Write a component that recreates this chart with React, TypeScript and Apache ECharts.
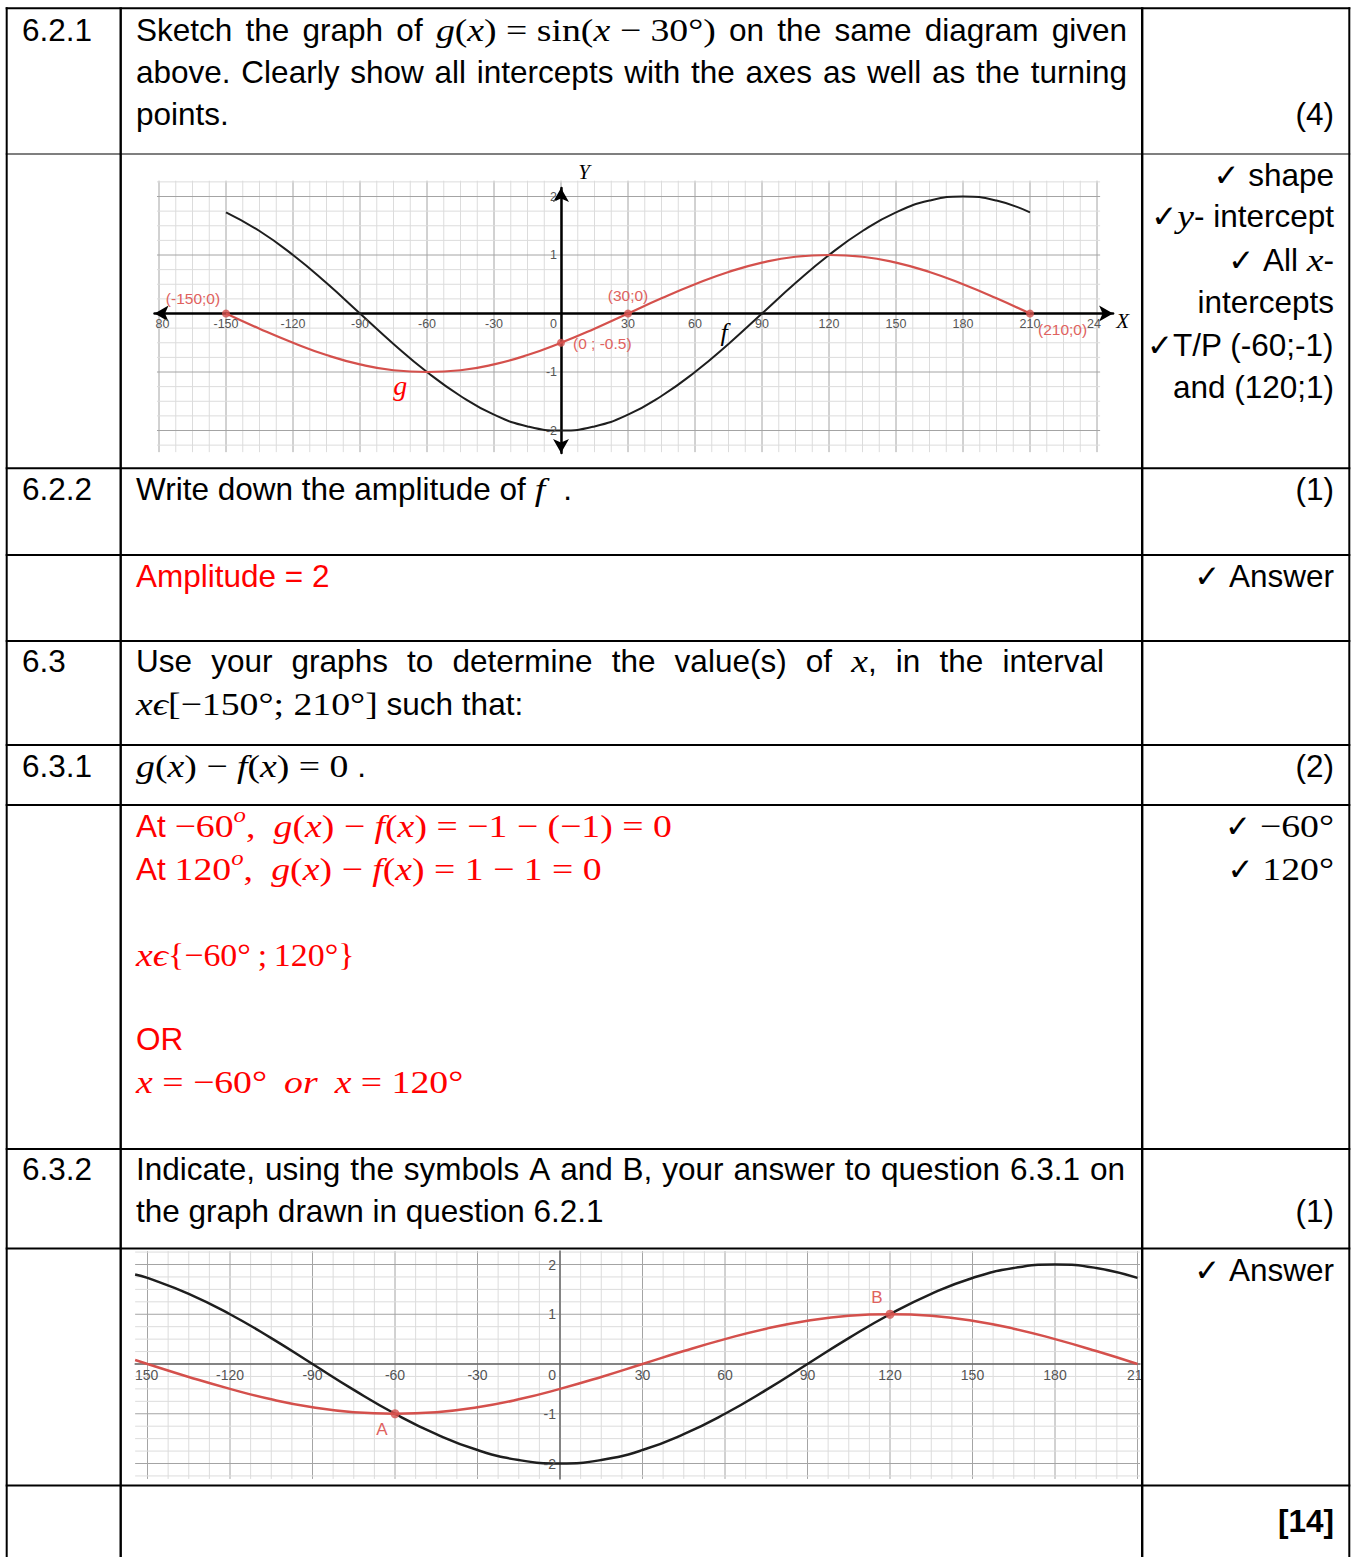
import React, { useEffect, useRef } from 'react';
import * as echarts from 'echarts';

// ---------- graph data ----------
// sample angles (degrees)
const angles = [-150, -135, -120, -105, -90, -75, -60, -45, -30, -15, 0, 15, 30, 45, 60, 75, 90, 105, 120, 135, 150, 165, 180, 195, 210];
// f(x) = -2cos x
const fValues = [1.73, 1.41, 1.0, 0.52, 0, -0.52, -1.0, -1.41, -1.73, -1.93, -2, -1.93, -1.73, -1.41, -1.0, -0.52, 0, 0.52, 1.0, 1.41, 1.73, 1.93, 2, 1.93, 1.73];
// g(x) = sin(x - 30°)
const gValues = [0, -0.26, -0.5, -0.71, -0.87, -0.97, -1, -0.97, -0.87, -0.71, -0.5, -0.26, 0, 0.26, 0.5, 0.71, 0.87, 0.97, 1, 0.97, 0.87, 0.71, 0.5, 0.26, 0];
// the lower graph runs out to its left edge
const edgeAngle = -154.5;
const fAtEdge = 1.8;
const gAtEdge = 0.08;

// marked points of g
const gPoints = [[-150, 0], [0, -0.5], [30, 0], [210, 0]];
const gPointLabels = ['(-150;0)', '(0 ; -0.5)', '(30;0)', '(210;0)'];
// solutions of g(x) - f(x) = 0
const abPoints = [[-60, -1], [120, 1]];
const abLabels = ['A', 'B'];

// tick labels (outer ones are cut off by the picture edge)
const topXTicks = [-180, -150, -120, -90, -60, -30, 0, 30, 60, 90, 120, 150, 180, 210, 240];
const topXTickLabels = ['80', '-150', '-120', '-90', '-60', '-30', '0', '30', '60', '90', '120', '150', '180', '210', '24'];
const bottomXTicks = [-150, -120, -90, -60, -30, 0, 30, 60, 90, 120, 150, 180, 210];
const bottomXTickLabels = ['150', '-120', '-90', '-60', '-30', '0', '30', '60', '90', '120', '150', '180', '21'];
const yTicks = [-2, -1, 1, 2];
const yTickLabels = ['-2', '-1', '1', '2'];

// ---------- layout of the two graphs (pixel scale per unit) ----------
const TOP = {
  x0: 561, kx: 67 / 30, y0: 313.5, ky: 58.5,
  xMin: -182, xMax: 247.2, yMin: -2.385, yMax: 2.145,
  vFrom: 2.27, vTo: -2.37, hFrom: -180.9, hTo: 241.4, vStart: -180, vEnd: 240,
};
const BOTTOM = {
  x0: 560, kx: 2.75, y0: 1364, ky: 49.75,
  xMin: -154.5, xMax: 210.9, yMin: -2.31, yMax: 2.27,
  vFrom: 2.27, vTo: -2.31, hFrom: -154.5, hTo: 210.9, vStart: -150, vEnd: 210,
};

const SANS = "'Liberation Sans', Arial, Helvetica, sans-serif";
const SERIF = "'Liberation Serif', 'Times New Roman', serif";
const SYM = "'DejaVu Sans', sans-serif";
const BLACK = '#000000';
const RED = '#ff0000';
const CURVE_RED = '#d4504c';
const NOTE_RED = '#e0625e';

// ---------- table text ----------
type Seg = [string, string];
type Part = string | Seg[];
interface TextLine { x: number; y: number; align: 'left' | 'right' | 'justify'; end?: number; base?: string; parts: Part[] }
interface StyleDef { font: string; fill: string; sx: number; dy: number }

const MSX = 1.18;
const STYLES: Record<string, StyleDef> = {
  a: { font: `31.5px ${SANS}`, fill: BLACK, sx: 1, dy: 0 },
  b: { font: `bold 31.5px ${SANS}`, fill: BLACK, sx: 1, dy: 0 },
  ar: { font: `31.5px ${SANS}`, fill: RED, sx: 1, dy: 0 },
  m: { font: `italic 32px ${SERIF}`, fill: BLACK, sx: MSX, dy: 0 },
  mu: { font: `32px ${SERIF}`, fill: BLACK, sx: MSX, dy: 0 },
  mr: { font: `italic 32px ${SERIF}`, fill: RED, sx: MSX, dy: 0 },
  mur: { font: `32px ${SERIF}`, fill: RED, sx: MSX, dy: 0 },
  mset: { font: `32px ${SERIF}`, fill: RED, sx: 1.06, dy: 0 },
  sup: { font: `italic 21px ${SERIF}`, fill: RED, sx: MSX, dy: -11 },
  ck: { font: `31px ${SYM}`, fill: BLACK, sx: 1, dy: 0 },
};

const ck: Seg = ['ck', '✓'];

const cellText: TextLine[] = [
  { x: 22, y: 30, align: 'left', parts: ['6.2.1'] },
  { x: 136, y: 30, align: 'justify', end: 1127, parts: ['Sketch the graph of', [['m', 'g'], ['mu', '('], ['m', 'x'], ['mu', ') = sin('], ['m', 'x '], ['mu', '− 30°)']], 'on the same diagram given'] },
  { x: 136, y: 72, align: 'justify', end: 1127, parts: ['above. Clearly show all intercepts with the axes as well as the turning'] },
  { x: 136, y: 114, align: 'left', parts: ['points.'] },
  { x: 1334, y: 114, align: 'right', parts: ['(4)'] },
  { x: 1334, y: 175, align: 'right', parts: [[ck], 'shape'] },
  { x: 1334, y: 216, align: 'right', parts: [[ck, ['m', 'y'], ['a', '-']], 'intercept'] },
  { x: 1334, y: 260, align: 'right', parts: [[ck], 'All', [['m', 'x'], ['a', '-']]] },
  { x: 1334, y: 302, align: 'right', parts: ['intercepts'] },
  { x: 1334, y: 345, align: 'right', parts: [[ck, ['a', 'T/P']], '(-60;-1)'] },
  { x: 1334, y: 387, align: 'right', parts: ['and (120;1)'] },
  { x: 22, y: 489, align: 'left', parts: ['6.2.2'] },
  { x: 136, y: 489, align: 'left', parts: ['Write down the amplitude of', [['m', 'f ']], '.'] },
  { x: 1334, y: 489, align: 'right', parts: ['(1)'] },
  { x: 136, y: 576, align: 'left', base: 'ar', parts: ['Amplitude = 2'] },
  { x: 1334, y: 576, align: 'right', parts: [[ck], 'Answer'] },
  { x: 22, y: 661, align: 'left', parts: ['6.3'] },
  { x: 136, y: 661, align: 'justify', end: 1104, parts: ['Use your graphs to determine the value(s) of', [['m', 'x'], ['a', ',']], 'in the interval'] },
  { x: 136, y: 704, align: 'left', parts: [[['m', 'xϵ'], ['mu', '[−150°; 210°]']], 'such that:'] },
  { x: 22, y: 766, align: 'left', parts: ['6.3.1'] },
  { x: 136, y: 766, align: 'left', parts: [[['m', 'g'], ['mu', '('], ['m', 'x'], ['mu', ') − '], ['m', 'f'], ['mu', '('], ['m', 'x'], ['mu', ') = 0']], '.'] },
  { x: 1334, y: 766, align: 'right', parts: ['(2)'] },
  { x: 136, y: 826, align: 'left', base: 'ar', parts: ['At', [['mur', '−60'], ['sup', 'o'], ['mur', ', ']], [['mr', 'g'], ['mur', '('], ['mr', 'x'], ['mur', ') − '], ['mr', 'f'], ['mur', '('], ['mr', 'x'], ['mur', ') = −1 − (−1) = 0']]] },
  { x: 1334, y: 826, align: 'right', parts: [[ck], [['mu', '−60°']]] },
  { x: 136, y: 869, align: 'left', base: 'ar', parts: ['At', [['mur', '120'], ['sup', 'o'], ['mur', ', ']], [['mr', 'g'], ['mur', '('], ['mr', 'x'], ['mur', ') − '], ['mr', 'f'], ['mur', '('], ['mr', 'x'], ['mur', ') = 1 − 1 = 0']]] },
  { x: 1334, y: 869, align: 'right', parts: [[ck], [['mu', '120°']]] },
  { x: 136, y: 955, align: 'left', parts: [[['mr', 'xϵ'], ['mset', '{−60°\u2009;\u2009120°}']]] },
  { x: 136, y: 1039, align: 'left', base: 'ar', parts: ['OR'] },
  { x: 136, y: 1082, align: 'left', parts: [[['mr', 'x '], ['mur', '= −60°\u2009 '], ['mr', 'or\u2009 '], ['mr', 'x '], ['mur', '= 120°']]] },
  { x: 22, y: 1169, align: 'left', parts: ['6.3.2'] },
  { x: 136, y: 1169, align: 'justify', end: 1125, parts: ['Indicate, using the symbols A and B, your answer to question 6.3.1 on'] },
  { x: 136, y: 1211, align: 'left', parts: ['the graph drawn in question 6.2.1'] },
  { x: 1334, y: 1211, align: 'right', parts: ['(1)'] },
  { x: 1334, y: 1270, align: 'right', parts: [[ck], 'Answer'] },
  { x: 1334, y: 1521, align: 'right', base: 'b', parts: ['[14]'] },
];

// table rules: [position, width]
const rowRules = [[8.3, 2], [154, 1.2], [468.3, 2], [555, 2], [641, 2], [745, 2], [805, 2], [1149, 2], [1248.5, 2], [1485.5, 2]];
const colRules = [[6.7, 2], [120.7, 2.4], [1142.2, 2.4], [1349.3, 2]];

function makeMeasure() {
  const ctx = document.createElement('canvas').getContext('2d') as CanvasRenderingContext2D;
  return (text: string, st: StyleDef) => {
    ctx.font = st.font;
    return ctx.measureText(text).width * st.sx;
  };
}

function textEl(x: number, y: number, text: string, st: StyleDef) {
  return {
    type: 'text', x, y: y + st.dy, scaleX: st.sx, z: 10, silent: true,
    style: { text, font: st.font, fill: st.fill, textAlign: 'left', textVerticalAlign: 'middle' },
  };
}

function layoutText(lines: TextLine[], measure: (t: string, s: StyleDef) => number) {
  const els: any[] = [];
  for (const line of lines) {
    const base = line.base || 'a';
    const words: Seg[][] = [];
    for (const part of line.parts) {
      if (typeof part === 'string') part.split(' ').filter(Boolean).forEach((w) => words.push([[base, w]]));
      else words.push(part);
    }
    if (line.align === 'justify') {
      const widths = words.map((w) => w.reduce((s, seg) => s + measure(seg[1], STYLES[seg[0]]), 0));
      const total = widths.reduce((a, b) => a + b, 0);
      const gap = ((line.end as number) - line.x - total) / (words.length - 1);
      let cx = line.x;
      words.forEach((w, i) => {
        for (const seg of w) {
          const st = STYLES[seg[0]];
          els.push(textEl(cx, line.y, seg[1], st));
          cx += measure(seg[1], st);
        }
        cx += i < words.length - 1 ? gap : 0;
      });
      continue;
    }
    // flatten with single spaces between words, then merge same-style runs
    const flat: Seg[] = [];
    words.forEach((w, i) => {
      if (i > 0) flat.push([base, ' ']);
      w.forEach((seg) => flat.push([seg[0], seg[1]]));
    });
    const merged: Seg[] = [];
    for (const seg of flat) {
      const last = merged[merged.length - 1];
      if (last && last[0] === seg[0] && last[1].trim() !== '') last[1] += seg[1];
      else merged.push([seg[0], seg[1]]);
    }
    const widths = merged.map((seg) => measure(seg[1], STYLES[seg[0]]));
    const total = widths.reduce((a, b) => a + b, 0);
    let cx = line.align === 'right' ? line.x - total : line.x;
    // trailing spaces do not count for right alignment
    if (line.align === 'right') {
      const lastSeg = merged[merged.length - 1];
      const trail = lastSeg[1].length - lastSeg[1].trimEnd().length;
      cx += trail * measure(' ', STYLES[lastSeg[0]]);
    }
    merged.forEach((seg, i) => {
      if (seg[1].trim() !== '') els.push(textEl(cx, line.y, seg[1], STYLES[seg[0]]));
      cx += widths[i];
    });
  }
  return els;
}

// ---------- graph helpers ----------
function gridBox(c: any) {
  return {
    left: c.x0 + c.xMin * c.kx,
    width: (c.xMax - c.xMin) * c.kx,
    top: c.y0 - c.yMax * c.ky,
    height: (c.yMax - c.yMin) * c.ky,
    containLabel: false,
    show: false,
  };
}

function axisOpt(gridIndex: number, min: number, max: number, arrows: boolean) {
  return {
    type: 'value', gridIndex, min, max, z: 2,
    axisLine: {
      show: true, onZero: true,
      symbol: arrows ? ['arrow', 'arrow'] : ['none', 'none'],
      symbolSize: [12, 14],
      lineStyle: arrows ? { color: '#000', width: 2.5 } : { color: '#6a6a6a', width: 1.5 },
    },
    axisTick: { show: false },
    axisLabel: { show: false },
    splitLine: { show: false },
    minorSplitLine: { show: false },
  };
}

// grid rules every 7.5° and every 0.25
function gridLineData(c: any) {
  const out: number[][] = [];
  for (let k = 0; c.vStart + k * 7.5 <= c.vEnd + 1e-9; k++) {
    const v = c.vStart + k * 7.5;
    out.push([v, c.vFrom, v, c.vTo, k % 4 === 0 ? 1 : 0]);
  }
  for (let k = -9; k <= 9; k++) {
    out.push([c.hFrom, k * 0.25, c.hTo, k * 0.25, k % 4 === 0 ? 1 : 0]);
  }
  return out;
}

function gridSeries(idx: number, c: any) {
  return {
    type: 'custom', xAxisIndex: idx, yAxisIndex: idx, z: 1, silent: true,
    data: gridLineData(c),
    renderItem: (_p: any, api: any) => {
      const a = api.coord([api.value(0), api.value(1)]);
      const b = api.coord([api.value(2), api.value(3)]);
      const major = api.value(4) === 1;
      return {
        type: 'line',
        shape: { x1: a[0], y1: a[1], x2: b[0], y2: b[1] },
        style: { stroke: major ? '#a4a4a4' : '#dcdcdc', lineWidth: 1 },
      };
    },
  };
}

interface TextSpec { text: string; dx: number; dy: number; align: string; font: string; fill: string }

function textSeries(idx: number, anchors: number[][], specs: TextSpec[]) {
  return {
    type: 'custom', xAxisIndex: idx, yAxisIndex: idx, z: 5, silent: true,
    data: anchors,
    renderItem: (params: any, api: any) => {
      const s = specs[params.dataIndex];
      const p = api.coord([api.value(0), api.value(1)]);
      return {
        type: 'text', x: p[0] + s.dx, y: p[1] + s.dy,
        style: { text: s.text, font: s.font, fill: s.fill, textAlign: s.align, textVerticalAlign: 'middle' },
      };
    },
  };
}

function xTickSpecs(values: number[], labels: string[], font: string, dy: number, firstDx: number, lastDx: number): TextSpec[] {
  return values.map((v, i) => {
    let dx = 0;
    let align = 'center';
    if (v === 0) { dx = -4; align = 'right'; }
    else if (i === 0) { dx = firstDx; align = 'left'; }
    else if (i === values.length - 1) { dx = lastDx; align = 'left'; }
    return { text: labels[i], dx, dy, align, font, fill: '#555' };
  });
}

function yTickSpecs(font: string): TextSpec[] {
  return yTickLabels.map((t) => ({ text: t, dx: -4, dy: 0, align: 'right', font, fill: '#555' }));
}

function buildOption() {
  const measure = makeMeasure();
  const textEls = layoutText(cellText, measure);
  const ruleEls: any[] = [];
  rowRules.forEach(([y, w]) => ruleEls.push({
    type: 'line', z: 10, silent: true,
    shape: { x1: 5.7, y1: y, x2: 1350.3, y2: y }, style: { stroke: '#000', lineWidth: w },
  }));
  colRules.forEach(([x, w]) => ruleEls.push({
    type: 'line', z: 10, silent: true,
    shape: { x1: x, y1: 7.3, x2: x, y2: 1557 }, style: { stroke: '#000', lineWidth: w },
  }));

  const fTop = angles.map((a, i) => [a, fValues[i]]);
  const gTop = angles.map((a, i) => [a, gValues[i]]);
  const fBottom = [[edgeAngle, fAtEdge], ...fTop];
  const gBottom = [[edgeAngle, gAtEdge], ...gTop];

  const labelFont1 = `12.5px ${SANS}`;
  const labelFont2 = `14px ${SANS}`;
  const noteFont = `15.5px ${SANS}`;

  const gPointPlacement = [[-33, -15, 'center'], [12, 1, 'left'], [0, -18, 'center'], [8, 16, 'left']];
  const abPlacement = [[-13, 16], [-13, -17]];

  const series: any[] = [
    // upper graph
    gridSeries(0, TOP),
    {
      type: 'line', name: 'f', xAxisIndex: 0, yAxisIndex: 0, z: 3, smooth: true, showSymbol: false, silent: true,
      data: fTop, lineStyle: { color: '#1e1e1e', width: 2 }, itemStyle: { color: '#1e1e1e' },
    },
    {
      type: 'line', name: 'g', xAxisIndex: 0, yAxisIndex: 0, z: 3, smooth: true, showSymbol: false, silent: true,
      data: gTop, lineStyle: { color: CURVE_RED, width: 2.2 }, itemStyle: { color: CURVE_RED },
    },
    {
      type: 'scatter', xAxisIndex: 0, yAxisIndex: 0, z: 4, silent: true,
      data: gPoints, symbolSize: 8, itemStyle: { color: CURVE_RED },
    },
    textSeries(0, topXTicks.map((v) => [v, 0]), xTickSpecs(topXTicks, topXTickLabels, labelFont1, 10.5, -3.5, -10)),
    textSeries(0, yTicks.map((v) => [0, v]), yTickSpecs(labelFont1)),
    textSeries(0, gPoints, gPointLabels.map((t, i) => ({
      text: t, dx: gPointPlacement[i][0] as number, dy: gPointPlacement[i][1] as number,
      align: gPointPlacement[i][2] as string, font: noteFont, fill: NOTE_RED,
    }))),
    textSeries(0, [[-72, -1.23], [73, -0.33], [251.5, -0.13], [10.3, 2.42]], [
      { text: 'g', dx: 0, dy: 0, align: 'center', font: `italic 28px ${SERIF}`, fill: RED },
      { text: 'f', dx: 0, dy: 0, align: 'center', font: `italic 26px ${SERIF}`, fill: '#000' },
      { text: 'X', dx: 0, dy: 0, align: 'center', font: `italic 21px ${SERIF}`, fill: '#000' },
      { text: 'Y', dx: 0, dy: 0, align: 'center', font: `italic 21px ${SERIF}`, fill: '#000' },
    ]),

    // lower graph
    gridSeries(1, BOTTOM),
    {
      type: 'line', name: 'f', xAxisIndex: 1, yAxisIndex: 1, z: 3, smooth: true, showSymbol: false, silent: true,
      data: fBottom, lineStyle: { color: '#1e1e1e', width: 2.5 }, itemStyle: { color: '#1e1e1e' },
    },
    {
      type: 'line', name: 'g', xAxisIndex: 1, yAxisIndex: 1, z: 3, smooth: true, showSymbol: false, silent: true,
      data: gBottom, lineStyle: { color: CURVE_RED, width: 2.5 }, itemStyle: { color: CURVE_RED },
    },
    {
      type: 'scatter', xAxisIndex: 1, yAxisIndex: 1, z: 4, silent: true,
      data: abPoints, symbolSize: 9, itemStyle: { color: CURVE_RED },
    },
    textSeries(1, bottomXTicks.map((v) => [v, 0]), xTickSpecs(bottomXTicks, bottomXTickLabels, labelFont2, 11, -12.5, -10.5)),
    textSeries(1, yTicks.map((v) => [0, v]), yTickSpecs(labelFont2)),
    textSeries(1, abPoints, abLabels.map((t, i) => ({
      text: t, dx: abPlacement[i][0], dy: abPlacement[i][1], align: 'center', font: `17px ${SANS}`, fill: NOTE_RED,
    }))),
  ];

  return {
    animation: false,
    backgroundColor: '#ffffff',
    grid: [gridBox(TOP), gridBox(BOTTOM)],
    xAxis: [axisOpt(0, TOP.xMin, TOP.xMax, true), axisOpt(1, BOTTOM.xMin, BOTTOM.xMax, false)],
    yAxis: [axisOpt(0, TOP.yMin, TOP.yMax, true), axisOpt(1, BOTTOM.yMin, BOTTOM.yMax, false)],
    series,
    graphic: { elements: [...ruleEls, ...textEls] },
  };
}

export default function App() {
  const ref = useRef<HTMLDivElement>(null);
  useEffect(() => {
    if (!ref.current) return;
    const chart = echarts.init(ref.current, undefined, { renderer: 'svg' });
    chart.setOption(buildOption() as any);
    return () => chart.dispose();
  }, []);
  return (
    <div
      ref={ref}
      style={{ position: 'absolute', left: 0, top: 0, width: 1357, height: 1557, background: '#fff' }}
    />
  );
}
